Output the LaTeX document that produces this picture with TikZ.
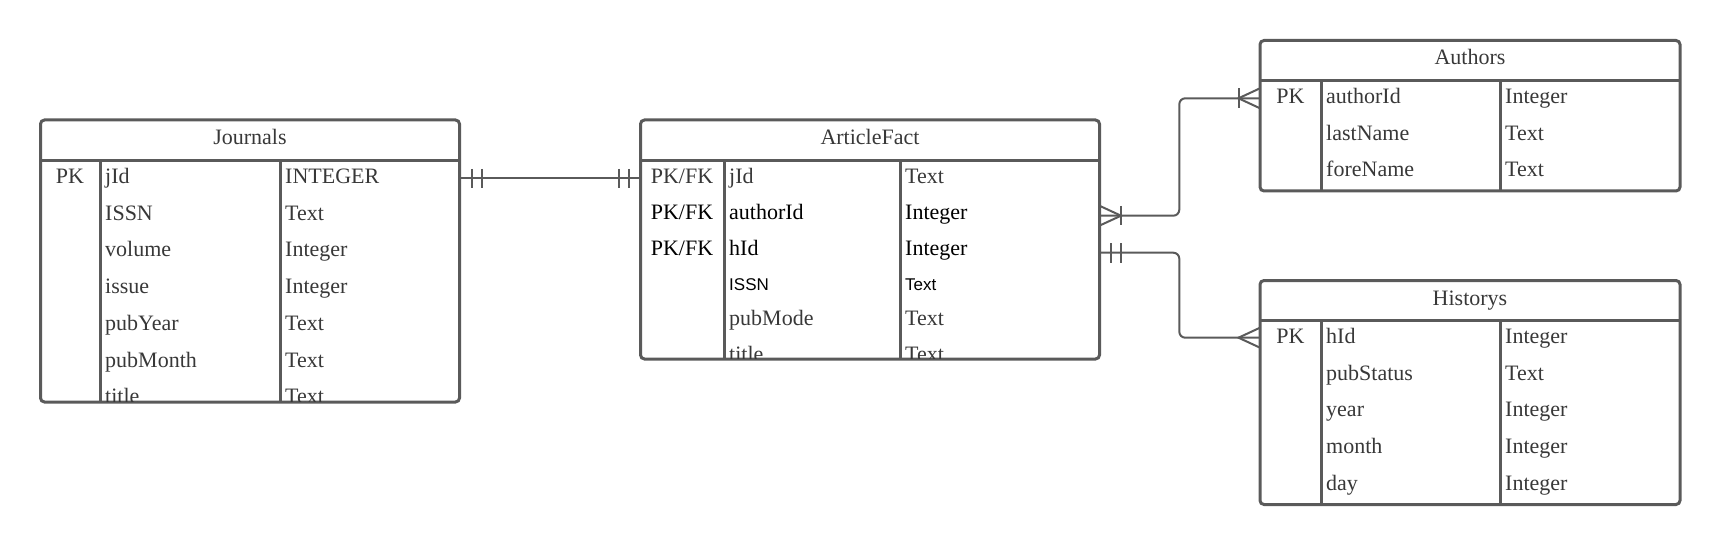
\documentclass[tikz,border=0pt]{standalone}
\usepackage{fontspec}
\setmainfont{Liberation Serif}
\newfontfamily\sansf{Liberation Sans}
\definecolor{ln}{HTML}{5A5A5A}
\definecolor{tx}{HTML}{383838}
\begin{document}
\begin{tikzpicture}[x=1pt,y=-1pt,
  tbl/.style={draw=ln, line width=3pt, rounded corners=4pt, inner sep=0pt, outer sep=0pt, anchor=north west},
  sepl/.style={draw=ln, line width=3pt},
  conn/.style={draw=ln, line width=2pt},
  fld/.style={anchor=base west, inner sep=0pt, text=tx, font=\fontsize{22}{24}\selectfont},
  keyc/.style={anchor=base, inner sep=0pt, text=tx, font=\fontsize{22}{24}\selectfont},
  blk/.style={text=black},
  sans/.style={font=\sansf\fontsize{17}{20}\selectfont, text=black}
]
\useasboundingbox (0,0) rectangle (1720,545);

% ---------- Journals ----------
\node[tbl, minimum width=419pt, minimum height=282pt] (journals) at (40.5,120) {};
\node[keyc] (jhdr) at (250,144.5) {Journals};
\draw[sepl] (journals.west |- 0,160.5) -- (journals.east |- 0,160.5);
\draw[sepl] (100,160.5) -- (100,402);
\draw[sepl] (280,160.5) -- (280,402);
\begin{scope}
\clip (40.5,120) rectangle (459.5,401);
\node[keyc] (jpk) at (70,183.3) {PK};
\node[fld] (jf1) at (105,183.3) {jId};
\node[fld] (jt1) at (285,183.3) {INTEGER};
\node[fld] (jf2) at (105,220.1) {ISSN};
\node[fld] (jt2) at (285,220.1) {Text};
\node[fld] (jf3) at (105,256.9) {volume};
\node[fld] (jt3) at (285,256.9) {Integer};
\node[fld] (jf4) at (105,293.7) {issue};
\node[fld] (jt4) at (285,293.7) {Integer};
\node[fld] (jf5) at (105,330.5) {pubYear};
\node[fld] (jt5) at (285,330.5) {Text};
\node[fld] (jf6) at (105,367.3) {pubMonth};
\node[fld] (jt6) at (285,367.3) {Text};
\node[fld] (jf7) at (105,403.5) {title};
\node[fld] (jt7) at (285,403.5) {Text};
\end{scope}

% ---------- ArticleFact ----------
\node[tbl, minimum width=459pt, minimum height=239pt] (article) at (640.5,120) {};
\node[keyc] (ahdr) at (870,144.5) {ArticleFact};
\draw[sepl] (article.west |- 0,160.5) -- (article.east |- 0,160.5);
\draw[sepl] (724,160.5) -- (724,359);
\draw[sepl] (900,160.5) -- (900,359);
\begin{scope}
\clip (640.5,120) rectangle (1099.5,358);
\node[keyc] (apk1) at (682,183.3) {PK/FK};
\node[fld] (af1) at (729,183.3) {jId};
\node[fld] (at1) at (905,183.3) {Text};
\node[keyc, blk] (apk2) at (682,219.5) {PK/FK};
\node[fld, blk] (af2) at (729,219.5) {authorId};
\node[fld, blk] (at2) at (905,219.5) {Integer};
\node[keyc, blk] (apk3) at (682,255.8) {PK/FK};
\node[fld, blk] (af3) at (729,255.8) {hId};
\node[fld, blk] (at3) at (905,255.8) {Integer};
\node[fld, sans] (af4) at (729,290.5) {ISSN};
\node[fld, sans] (at4) at (905,290.5) {Text};
\node[fld] (af5) at (729,325.8) {pubMode};
\node[fld] (at5) at (905,325.8) {Text};
\node[fld] (af6) at (729,361.8) {title};
\node[fld] (at6) at (905,361.8) {Text};
\end{scope}

% ---------- Authors ----------
\node[tbl, minimum width=420pt, minimum height=150.5pt] (authors) at (1260,40.5) {};
\node[keyc] (uhdr) at (1470,65) {Authors};
\draw[sepl] (authors.west |- 0,80.5) -- (authors.east |- 0,80.5);
\draw[sepl] (1321,80.5) -- (1321,191);
\draw[sepl] (1500,80.5) -- (1500,191);
\node[keyc] (upk) at (1290.5,103.3) {PK};
\node[fld] (uf1) at (1326,103.3) {authorId};
\node[fld] (ut1) at (1505,103.3) {Integer};
\node[fld] (uf2) at (1326,140.1) {lastName};
\node[fld] (ut2) at (1505,140.1) {Text};
\node[fld] (uf3) at (1326,176.9) {foreName};
\node[fld] (ut3) at (1505,176.9) {Text};

% ---------- Historys ----------
\node[tbl, minimum width=420pt, minimum height=224pt] (historys) at (1260,280.5) {};
\node[keyc] (hhdr) at (1470,305) {Historys};
\draw[sepl] (historys.west |- 0,320.5) -- (historys.east |- 0,320.5);
\draw[sepl] (1321,320.5) -- (1321,504.5);
\draw[sepl] (1500,320.5) -- (1500,504.5);
\node[keyc] (hpk) at (1290.5,343.3) {PK};
\node[fld] (hf1) at (1326,343.3) {hId};
\node[fld] (ht1) at (1505,343.3) {Integer};
\node[fld] (hf2) at (1326,380.1) {pubStatus};
\node[fld] (ht2) at (1505,380.1) {Text};
\node[fld] (hf3) at (1326,416.9) {year};
\node[fld] (ht3) at (1505,416.9) {Integer};
\node[fld] (hf4) at (1326,453.7) {month};
\node[fld] (ht4) at (1505,453.7) {Integer};
\node[fld] (hf5) at (1326,490.5) {day};
\node[fld] (ht5) at (1505,490.5) {Integer};

% ---------- Connectors ----------
\coordinate (r1) at (0,178.3);
\coordinate (r2) at (0,215.7);
\coordinate (r3) at (0,252.7);
\coordinate (ra) at (0,98.3);
\coordinate (rh) at (0,337.7);
\coordinate (bend) at (1179.3,0);

% Journals -- ArticleFact (one and only one on both ends)
\draw[conn] (journals.east |- r1) -- (article.west |- r1);
\draw[conn] (472,169) -- (472,188) (482,169) -- (482,188);
\draw[conn] (619,169) -- (619,188) (629,169) -- (629,188);

% ArticleFact -- Authors (one or many on both ends)
\draw[conn, rounded corners=6pt] (article.east |- r2) -- (bend |- r2) -- (bend |- ra) -- (authors.west |- ra);
\draw[conn] (1100,206) -- (1121,215.7) -- (1100,225.4);
\draw[conn] (1121,206) -- (1121,225.4);
\draw[conn] (1260,88.3) -- (1238.5,98.3) -- (1260,108.3);
\draw[conn] (1238.5,88.3) -- (1238.5,108.3);

% ArticleFact -- Historys (one and only one -- many)
\draw[conn, rounded corners=6pt] (article.east |- r3) -- (bend |- r3) -- (bend |- rh) -- (historys.west |- rh);
\draw[conn] (1110.7,243.3) -- (1110.7,262.7) (1120.7,243.3) -- (1120.7,262.7);
\draw[conn] (1260,327.7) -- (1238.5,337.7) -- (1260,347.7);
\end{tikzpicture}
\end{document}
